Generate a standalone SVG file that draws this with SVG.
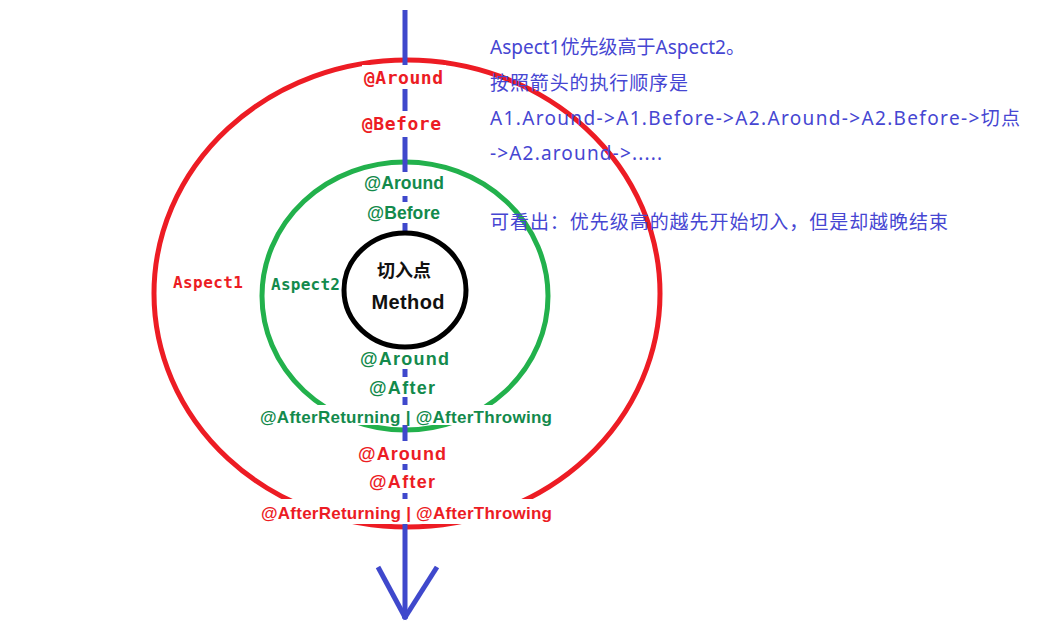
<svg xmlns="http://www.w3.org/2000/svg" width="1037" height="621" viewBox="0 0 1037 621">
<style>
.ring{fill:none;stroke-width:5}
.bg{fill:#ffffff}
.mono{font-family:"DejaVu Sans Mono","Liberation Mono",monospace;font-weight:bold}
.sans{font-family:"Liberation Sans","Noto Sans",Arial,sans-serif;font-weight:bold}
.red{fill:#ec1c24}
.grn{fill:#138a4c}
.note{font-family:"Noto Sans","Noto Sans CJK SC",sans-serif;font-size:19px;fill:#4646d2}
.flow{stroke:#3f48cc;stroke-width:5;fill:none;stroke-linecap:butt}
</style>
<rect width="1037" height="621" fill="#ffffff"/>
<g id="aspect1">
<ellipse class="ring" cx="407" cy="293.5" rx="253" ry="233.5" stroke="#ed1c24"/>
</g>
<g id="aspect2">
<ellipse class="ring" cx="405" cy="296" rx="143" ry="134" stroke="#22b14c"/>
</g>
<g id="connectors">
<line class="flow" x1="405" y1="10" x2="405" y2="619"/>
<line class="flow" x1="378" y1="567" x2="406" y2="619"/>
<line class="flow" x1="437" y1="567" x2="404" y2="619"/>
</g>
<g id="label-backgrounds">
<rect class="bg" x="362" y="65" width="84" height="24"/>
<rect class="bg" x="360" y="111" width="84" height="26"/>
<rect class="bg" x="362" y="172" width="85" height="24"/>
<rect class="bg" x="365" y="202" width="77" height="21"/>
<rect class="bg" x="358" y="349" width="94" height="20"/>
<rect class="bg" x="367" y="377" width="70" height="20"/>
<rect class="bg" x="258" y="405" width="297" height="20"/>
<rect class="bg" x="356" y="441" width="93" height="23"/>
<rect class="bg" x="367" y="470" width="70" height="23"/>
<rect class="bg" x="258" y="499" width="297" height="25"/>
</g>
<g id="method">
<ellipse cx="405" cy="290" rx="61" ry="57" fill="#ffffff" stroke="#000000" stroke-width="5"/>
<text x="404" y="277" text-anchor="middle" font-family="'Noto Sans CJK SC',sans-serif" font-weight="bold" font-size="18" fill="#111111">切入点</text>
<text x="408" y="309" text-anchor="middle" class="sans" font-size="20" fill="#111111" textLength="73">Method</text>
</g>
<g id="aspect1-labels">
<text x="173" y="288" class="mono red" font-size="16" textLength="70">Aspect1</text>
<text x="403.5" y="84" text-anchor="middle" class="mono red" font-size="18" textLength="79">@Around</text>
<text x="401.5" y="130" text-anchor="middle" class="mono red" font-size="18" textLength="79">@Before</text>
<text x="402" y="460" text-anchor="middle" class="sans red" font-size="18" textLength="88">@Around</text>
<text x="402" y="488" text-anchor="middle" class="sans red" font-size="18" textLength="66">@After</text>
<text x="406.5" y="519" text-anchor="middle" class="sans red" font-size="17" textLength="291">@AfterReturning | @AfterThrowing</text>
</g>
<g id="aspect2-labels">
<text x="271" y="290" class="mono grn" font-size="16" textLength="69">Aspect2</text>
<text x="404" y="189" text-anchor="middle" class="sans grn" font-size="17.5" textLength="80">@Around</text>
<text x="403.5" y="219" text-anchor="middle" class="sans grn" font-size="17.5" textLength="73">@Before</text>
<text x="404.5" y="365" text-anchor="middle" class="sans grn" font-size="18" textLength="89">@Around</text>
<text x="402" y="394" text-anchor="middle" class="sans grn" font-size="18" textLength="66">@After</text>
<text x="406" y="423" text-anchor="middle" class="sans grn" font-size="17" textLength="292">@AfterReturning | @AfterThrowing</text>
</g>
<g id="notes">
<text x="490" y="54" class="note" textLength="255">Aspect1优先级高于Aspect2。</text>
<text x="490" y="90" class="note" textLength="198">按照箭头的执行顺序是</text>
<text x="490" y="125" class="note" textLength="530">A1.Around-&gt;A1.Before-&gt;A2.Around-&gt;A2.Before-&gt;切点</text>
<text x="490" y="160" class="note" textLength="172">-&gt;A2.around-&gt;.....</text>
<text x="490" y="229" class="note" textLength="458">可看出：优先级高的越先开始切入，但是却越晚结束</text>
</g>
</svg>
